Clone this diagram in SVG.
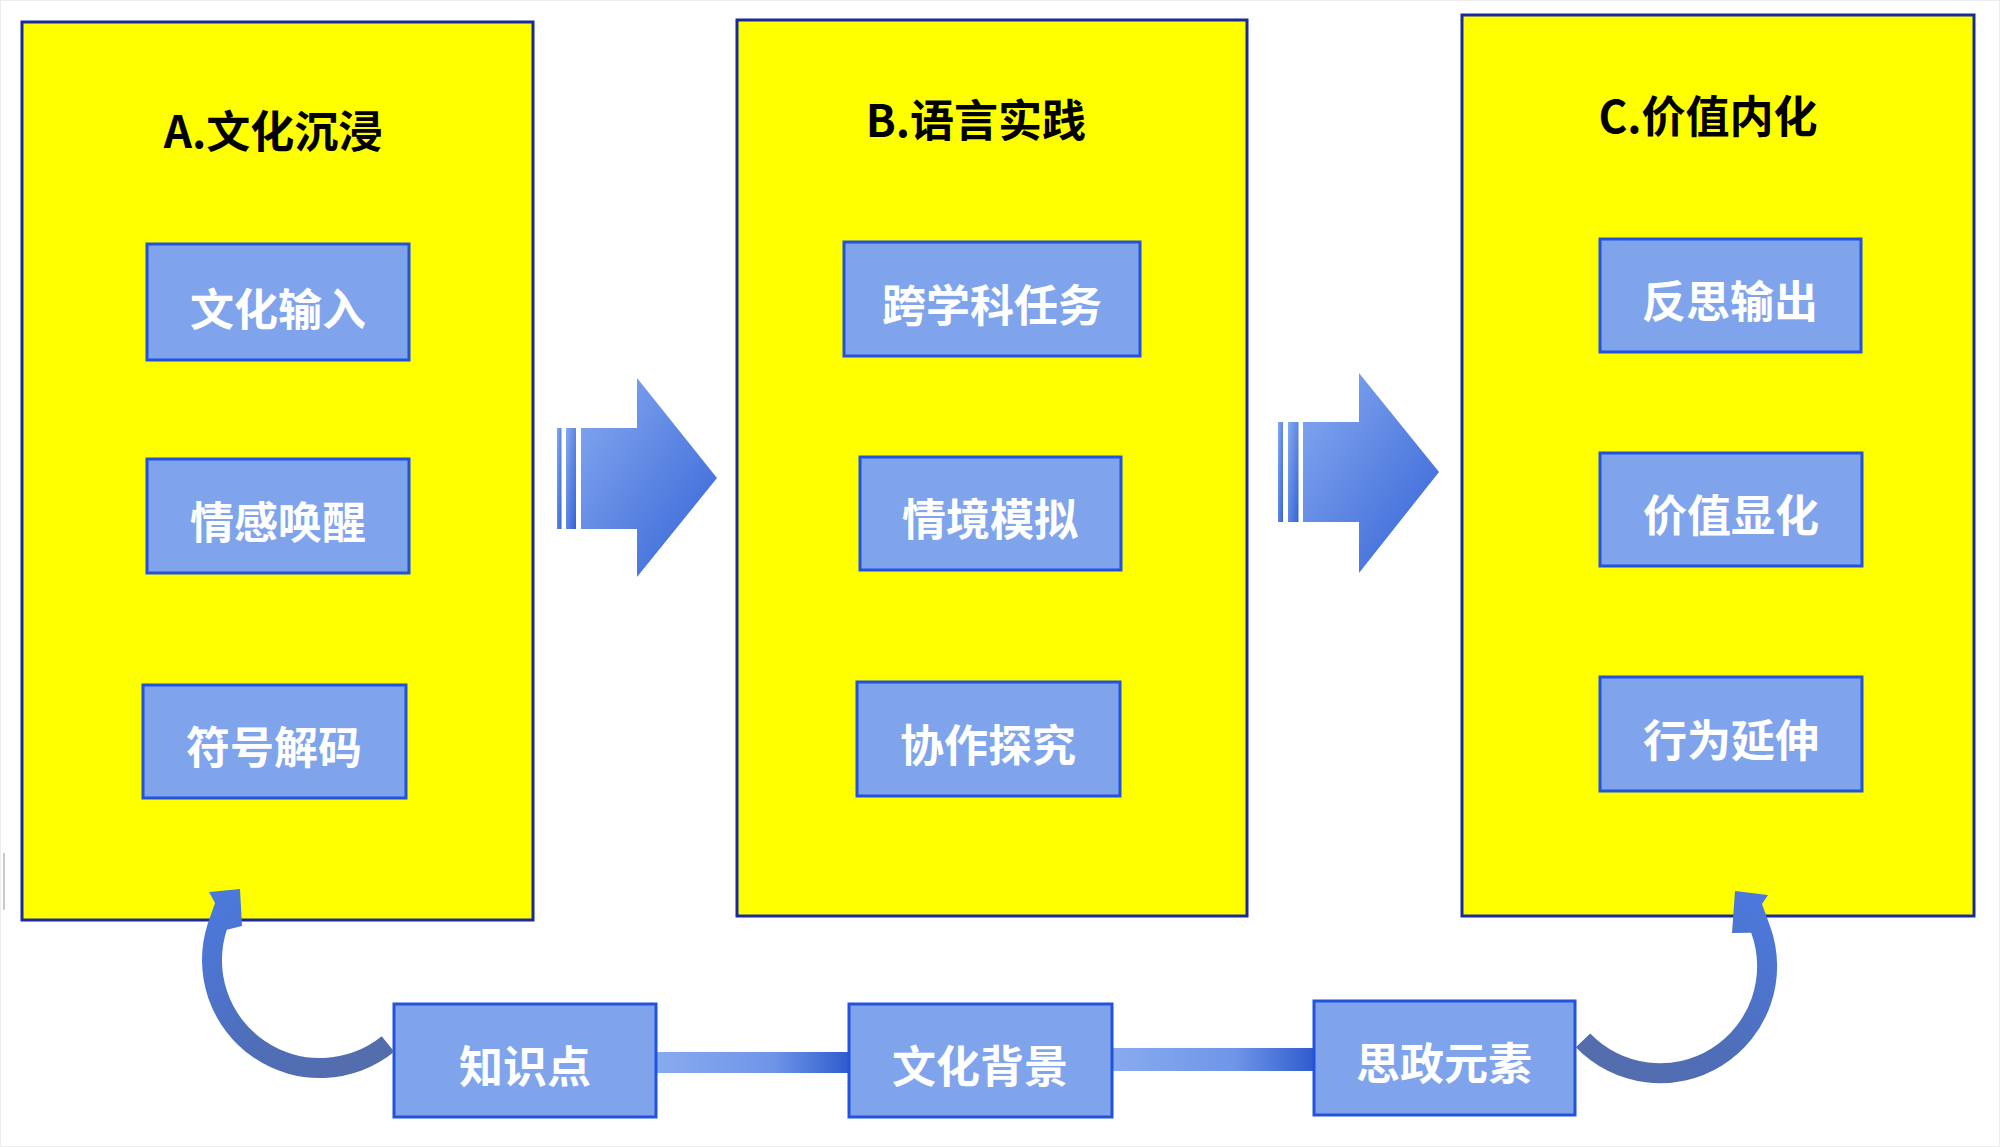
<svg xmlns="http://www.w3.org/2000/svg" width="2000" height="1147" viewBox="0 0 2000 1147">
  <defs>
    <linearGradient id="bigArrow" x1="0" y1="0" x2="1" y2="1">
      <stop offset="0" stop-color="#86aaf0"/>
      <stop offset="1" stop-color="#3563d6"/>
    </linearGradient>
    <linearGradient id="bar" x1="0" y1="0" x2="1" y2="0">
      <stop offset="0" stop-color="#8aacef"/>
      <stop offset="0.6" stop-color="#6f95e8"/>
      <stop offset="1" stop-color="#2a58cc"/>
    </linearGradient>
    <linearGradient id="curveL" x1="1" y1="1" x2="0" y2="0">
      <stop offset="0" stop-color="#556ca8"/>
      <stop offset="0.45" stop-color="#4f6eb8"/>
      <stop offset="1" stop-color="#4b7ae2"/>
    </linearGradient>
    <linearGradient id="curveR" x1="0" y1="1" x2="1" y2="0">
      <stop offset="0" stop-color="#556ca8"/>
      <stop offset="0.45" stop-color="#4f6eb8"/>
      <stop offset="1" stop-color="#4b7ae2"/>
    </linearGradient>
  </defs>
  <style>
    .panel { fill: #ffff00; stroke: #1a2a9c; stroke-width: 3; }
    .box { fill: #7fa4ec; stroke: #2353dc; stroke-width: 3; }
    .title { font-family: "Noto Sans CJK SC", "Liberation Sans", sans-serif; font-weight: 700; font-size: 44px; fill: #000; text-anchor: middle; }
    .label { font-family: "Noto Sans CJK SC", "Liberation Sans", sans-serif; font-weight: 700; font-size: 44px; fill: #ffffff; text-anchor: middle; }
  </style>
  <rect x="0" y="0" width="2000" height="1147" fill="#ffffff"/>
  <rect x="0.5" y="0.5" width="1999" height="1146" fill="none" stroke="#ececec" stroke-width="1"/>
  <line x1="4" y1="853" x2="4" y2="910" stroke="#b8b8b8" stroke-width="1.5"/>

  <g id="connectors">
    <rect x="650" y="1052" width="205" height="21" fill="url(#bar)"/>
    <rect x="1106" y="1048" width="214" height="23" fill="url(#bar)"/>
  </g>

  <g id="panelA">
    <rect class="panel" x="22" y="22" width="511" height="898"/>
    <text class="title" x="273" y="148">A.文化沉浸</text>
  </g>
  <g id="panelB">
    <rect class="panel" x="737" y="20" width="510" height="896"/>
    <text class="title" x="976" y="137">B.语言实践</text>
  </g>
  <g id="panelC">
    <rect class="panel" x="1462" y="15" width="512" height="901"/>
    <text class="title" x="1708" y="133">C.价值内化</text>
  </g>

  <g id="A1"><rect class="box" x="147" y="244" width="262" height="116"/><text class="label" x="278" y="326">文化输入</text></g>
  <g id="A2"><rect class="box" x="147" y="459" width="262" height="114"/><text class="label" x="278" y="539">情感唤醒</text></g>
  <g id="A3"><rect class="box" x="143" y="685" width="263" height="113"/><text class="label" x="274" y="764">符号解码</text></g>

  <g id="B1"><rect class="box" x="844" y="242" width="296" height="114"/><text class="label" x="992" y="322">跨学科任务</text></g>
  <g id="B2"><rect class="box" x="860" y="457" width="261" height="113"/><text class="label" x="990" y="536">情境模拟</text></g>
  <g id="B3"><rect class="box" x="857" y="682" width="263" height="114"/><text class="label" x="988" y="762">协作探究</text></g>

  <g id="C1"><rect class="box" x="1600" y="239" width="261" height="113"/><text class="label" x="1730" y="318">反思输出</text></g>
  <g id="C2"><rect class="box" x="1600" y="453" width="262" height="113"/><text class="label" x="1731" y="532">价值显化</text></g>
  <g id="C3"><rect class="box" x="1600" y="677" width="262" height="114"/><text class="label" x="1731" y="757">行为延伸</text></g>

  <g id="K1"><rect class="box" x="394" y="1004" width="262" height="113"/><text class="label" x="525" y="1083">知识点</text></g>
  <g id="K2"><rect class="box" x="849" y="1004" width="263" height="113"/><text class="label" x="980" y="1083">文化背景</text></g>
  <g id="K3"><rect class="box" x="1314" y="1001" width="261" height="114"/><text class="label" x="1444" y="1080">思政元素</text></g>

  <g id="arrowAB">
    <rect x="557" y="428" width="4.5" height="101" fill="url(#bigArrow)"/>
    <rect x="566" y="428" width="10" height="101" fill="url(#bigArrow)"/>
    <polygon points="581,428 637,428 637,378 717,478 637,577 637,529 581,529" fill="url(#bigArrow)"/>
  </g>
  <g id="arrowBC">
    <rect x="1278" y="422" width="5" height="100" fill="url(#bigArrow)"/>
    <rect x="1288" y="422" width="10.5" height="100" fill="url(#bigArrow)"/>
    <polygon points="1303,422 1359,422 1359,373 1439,472 1359,573 1359,522 1303,522" fill="url(#bigArrow)"/>
  </g>

  <g id="curveLeft">
    <path d="M394.3,1051.7 A118,118 0 0 1 207.8,923.5 L215,903 L209,892 L240,889 L242,926 L226.8,929.7 A98,98 0 0 0 381.7,1036.2 Z" fill="url(#curveL)"/>
  </g>
  <g id="curveRight">
    <path d="M1575.8,1047.3 A117,117 0 0 0 1770,926 L1762,904 L1768,895 L1735,891 L1732,933 L1751.2,932.8 A97,97 0 0 1 1590.2,1033.4 Z" fill="url(#curveR)"/>
  </g>
</svg>
